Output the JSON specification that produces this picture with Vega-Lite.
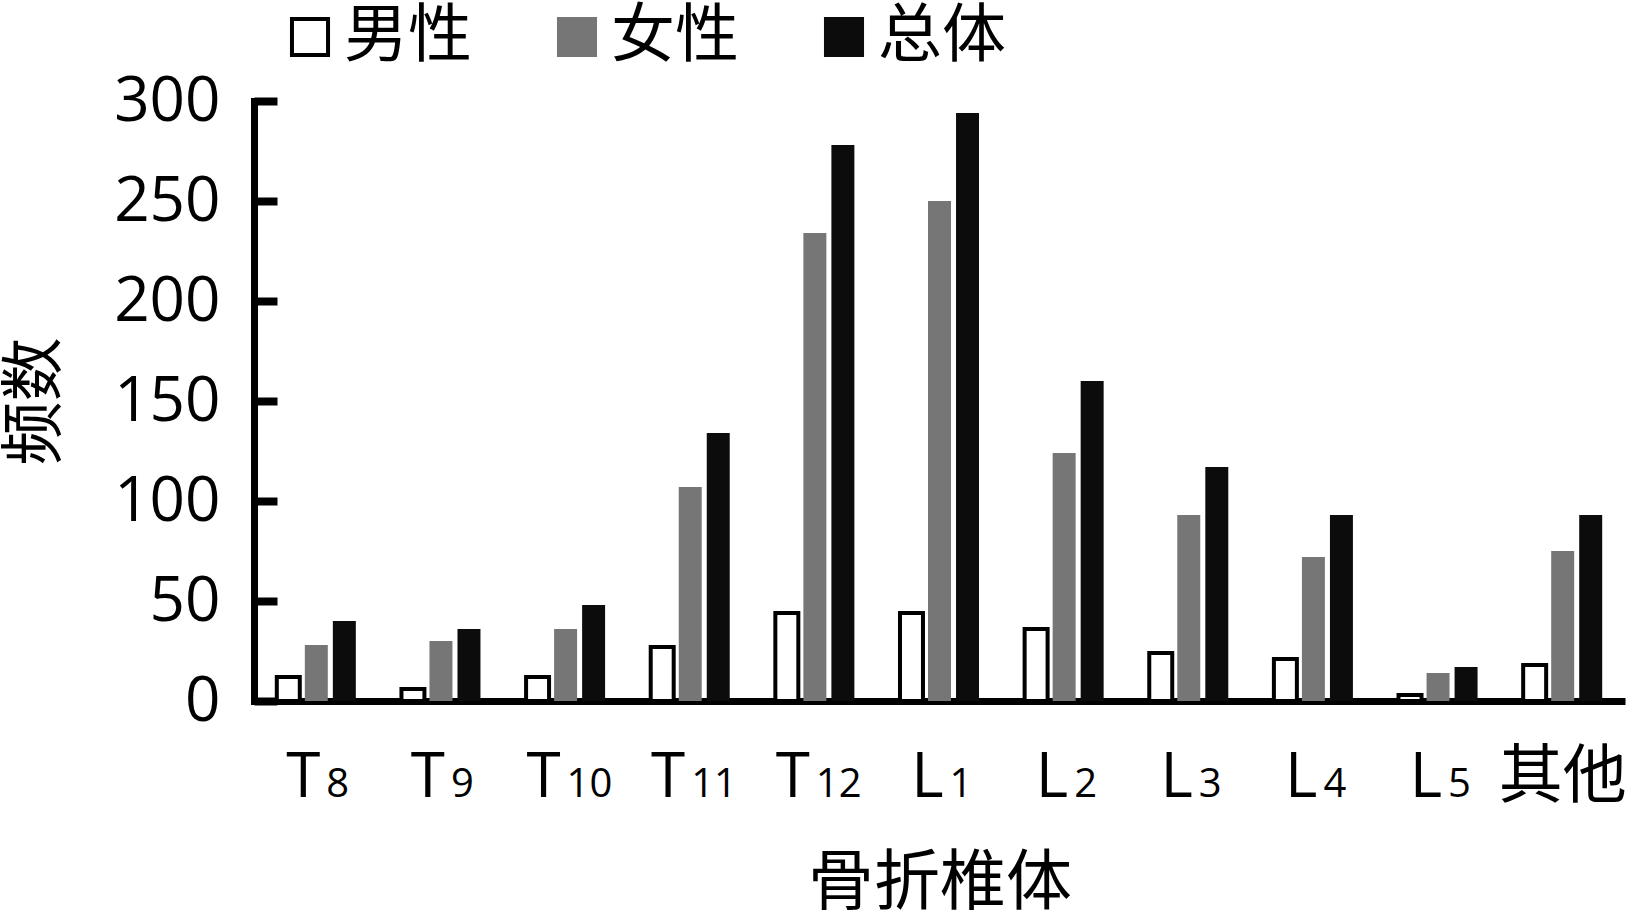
{
  "$schema": "https://vega.github.io/schema/vega-lite/v6.json",
  "autosize": {"type": "none"},
  "width": 1371,
  "height": 600,
  "padding": {"left": 254, "top": 101, "right": 4, "bottom": 213},
  "background": "white",
  "data": {
    "values": [
      {"vertebra": "T8", "gender": "男性", "count": 12},
      {"vertebra": "T8", "gender": "女性", "count": 28},
      {"vertebra": "T8", "gender": "总体", "count": 40},
      {"vertebra": "T9", "gender": "男性", "count": 6},
      {"vertebra": "T9", "gender": "女性", "count": 30},
      {"vertebra": "T9", "gender": "总体", "count": 36},
      {"vertebra": "T10", "gender": "男性", "count": 12},
      {"vertebra": "T10", "gender": "女性", "count": 36},
      {"vertebra": "T10", "gender": "总体", "count": 48},
      {"vertebra": "T11", "gender": "男性", "count": 27},
      {"vertebra": "T11", "gender": "女性", "count": 107},
      {"vertebra": "T11", "gender": "总体", "count": 134},
      {"vertebra": "T12", "gender": "男性", "count": 44},
      {"vertebra": "T12", "gender": "女性", "count": 234},
      {"vertebra": "T12", "gender": "总体", "count": 278},
      {"vertebra": "L1", "gender": "男性", "count": 44},
      {"vertebra": "L1", "gender": "女性", "count": 250},
      {"vertebra": "L1", "gender": "总体", "count": 294},
      {"vertebra": "L2", "gender": "男性", "count": 36},
      {"vertebra": "L2", "gender": "女性", "count": 124},
      {"vertebra": "L2", "gender": "总体", "count": 160},
      {"vertebra": "L3", "gender": "男性", "count": 24},
      {"vertebra": "L3", "gender": "女性", "count": 93},
      {"vertebra": "L3", "gender": "总体", "count": 117},
      {"vertebra": "L4", "gender": "男性", "count": 21},
      {"vertebra": "L4", "gender": "女性", "count": 72},
      {"vertebra": "L4", "gender": "总体", "count": 93},
      {"vertebra": "L5", "gender": "男性", "count": 3},
      {"vertebra": "L5", "gender": "女性", "count": 14},
      {"vertebra": "L5", "gender": "总体", "count": 17},
      {"vertebra": "其他", "gender": "男性", "count": 18},
      {"vertebra": "其他", "gender": "女性", "count": 75},
      {"vertebra": "其他", "gender": "总体", "count": 93}
    ]
  },
  "encoding": {
    "xOffset": {
      "field": "gender",
      "type": "nominal",
      "scale": {"domain": ["男性", "女性", "总体"], "paddingInner": 0.18, "paddingOuter": 0}
    },
    "y": {
      "field": "count",
      "type": "quantitative",
      "scale": {"domain": [0, 300], "nice": false},
      "axis": {
        "title": "频数",
        "titleFont": "Noto Sans CJK SC",
        "titleFontSize": 64,
        "titleFontWeight": "normal",
        "titleColor": "black",
        "titlePadding": 46,
        "values": [0, 50, 100, 150, 200, 250, 300],
        "grid": false,
        "domainColor": "black",
        "domainWidth": 7,
        "domainCap": "square",
        "tickColor": "black",
        "tickWidth": 8,
        "tickSize": -23,
        "labelFont": "Open Sans",
        "labelFontSize": 62,
        "labelColor": "black",
        "labelPadding": 57
      }
    },
    "color": {
      "field": "gender",
      "type": "nominal",
      "scale": {"domain": ["男性", "女性", "总体"], "range": ["#ffffff", "#767676", "#0c0c0c"]},
      "legend": {
        "title": null,
        "orient": "none",
        "legendX": 24,
        "legendY": -96,
        "direction": "horizontal",
        "columns": 3,
        "columnPadding": 73,
        "symbolType": "square",
        "symbolSize": 1300,
        "symbolStrokeWidth": 4,
        "labelFont": "Noto Sans CJK SC",
        "labelFontSize": 64,
        "labelColor": "black",
        "labelOffset": 2
      }
    },
    "stroke": {
      "field": "gender",
      "type": "nominal",
      "scale": {"domain": ["男性", "女性", "总体"], "range": ["#000000", "#767676", "#0c0c0c"]},
      "legend": null
    }
  },
  "layer": [
    {
      "transform": [{"filter": "datum.gender == '男性'"}],
      "mark": {"type": "bar", "strokeWidth": 4, "opacity": 1},
      "encoding": {
        "x": {
          "field": "vertebra",
          "type": "nominal",
          "sort": ["T8", "T9", "T10", "T11", "T12", "L1", "L2", "L3", "L4", "L5", "其他"],
          "scale": {"paddingInner": 0.366, "paddingOuter": 0.183},
          "axis": {
            "orient": "bottom",
            "title": "骨折椎体",
            "titleFont": "Noto Sans CJK SC",
            "titleFontSize": 66,
            "titleFontWeight": "normal",
            "titleColor": "black",
            "titlePadding": 42,
            "ticks": false,
            "grid": false,
            "domainColor": "black",
            "domainWidth": 7,
            "labelAngle": 0,
            "labelExpr": "datum.value == '其他' ? '其他' : substring(datum.value, 0, 1)",
            "labelFont": {"condition": {"test": "datum.value == '其他'", "value": "Noto Sans CJK SC"}, "value": "Open Sans"},
            "labelFontSize": {"condition": {"test": "datum.value == '其他'", "value": 64}, "value": 62},
            "labelAlign": {"condition": {"test": "datum.value == '其他'", "value": "center"}, "value": "right"},
            "labelOffset": {
              "condition": [
                {"test": "length(datum.value) == 3", "value": -5},
                {"test": "datum.value == '其他'", "value": 0}
              ],
              "value": 4
            },
            "labelBaseline": "alphabetic",
            "labelPadding": 95,
            "labelColor": "black"
          }
        }
      }
    },
    {
      "transform": [{"filter": "datum.gender != '男性'"}],
      "mark": {"type": "bar", "strokeWidth": 0, "opacity": 1},
      "encoding": {
        "x": {
          "field": "vertebra",
          "type": "nominal",
          "sort": ["T8", "T9", "T10", "T11", "T12", "L1", "L2", "L3", "L4", "L5", "其他"],
          "scale": {"paddingInner": 0.366, "paddingOuter": 0.183},
          "axis": {
            "orient": "bottom",
            "title": null,
            "ticks": false,
            "grid": false,
            "domain": false,
            "labelAngle": 0,
            "labelExpr": "datum.value == '其他' ? '' : substring(datum.value, 1)",
            "labelFont": "Open Sans",
            "labelFontSize": 40,
            "labelAlign": "left",
            "labelOffset": {"condition": {"test": "length(datum.value) == 3", "value": 1}, "value": 10},
            "labelBaseline": "alphabetic",
            "labelPadding": 95,
            "labelColor": "black"
          }
        }
      }
    }
  ],
  "resolve": {"axis": {"x": "independent"}},
  "config": {
    "view": {"stroke": null},
    "axis": {"grid": false}
  }
}
